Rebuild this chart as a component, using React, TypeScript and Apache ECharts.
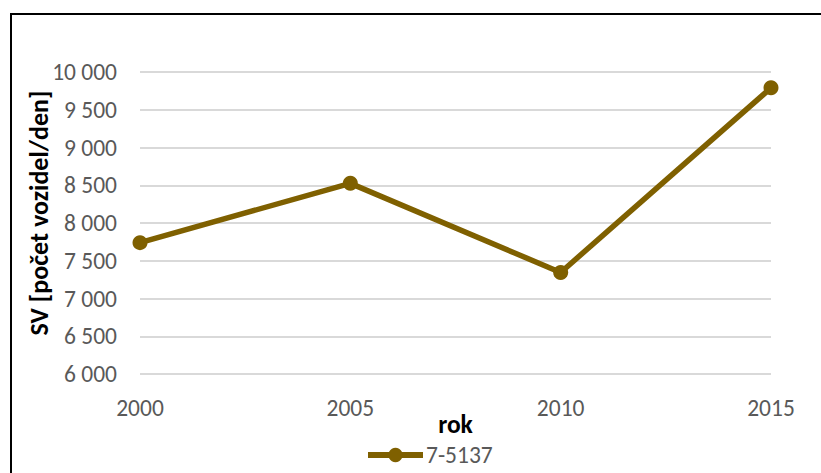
import React, { useEffect, useRef } from "react";
import * as echarts from "echarts";

// Annual traffic volume at count station 7-5137
const years = ["2000", "2005", "2010", "2015"];
const volumes = [7740, 8525, 7345, 9790];
const seriesName = "7-5137";
const yTicks = { min: 6000, max: 10000, interval: 500 };

const FONT = "Carlito, Calibri, Lato, 'Open Sans', sans-serif";
const LINE_COLOR = "#7F6000";

function formatThousands(v: number): string {
  return String(v).replace(/\B(?=(\d{3})+(?!\d))/g, " ");
}

export default function App() {
  const ref = useRef<HTMLDivElement>(null);

  useEffect(() => {
    if (!ref.current) return;
    const chart = echarts.init(ref.current, null, { renderer: "svg" });
    chart.setOption({
      animation: false,
      backgroundColor: "#ffffff",
      textStyle: { fontFamily: FONT },
      grid: { left: 140, right: 50, top: 72, bottom: 99, containLabel: false },
      xAxis: {
        type: "category",
        data: years,
        boundaryGap: false,
        axisLine: { show: false },
        axisTick: { show: false },
        axisLabel: { color: "#595959", fontSize: 23.5, margin: 22, fontFamily: FONT },
        name: "rok",
        nameLocation: "middle",
        nameGap: 37,
        nameMoveOverlap: false,
        nameTextStyle: { color: "#000000", fontSize: 25.5, fontWeight: "bold", fontFamily: FONT },
      },
      yAxis: {
        type: "value",
        min: yTicks.min,
        max: yTicks.max,
        interval: yTicks.interval,
        axisLine: { show: false },
        axisTick: { show: false },
        splitLine: { lineStyle: { color: "#d9d9d9", width: 2 } },
        axisLabel: {
          color: "#595959",
          fontSize: 23.5,
          margin: 23,
          fontFamily: FONT,
          formatter: (v: number) => formatThousands(v),
        },
      },
      legend: {
        data: [seriesName],
        top: 443,
        left: 365,
        padding: 0,
        itemWidth: 55,
        itemHeight: 18,
        itemGap: 2,
        lineStyle: { width: 6, color: LINE_COLOR },
        textStyle: { color: "#595959", fontSize: 23.5, fontFamily: FONT, padding: [0, 0, 0, -2] },
      },
      graphic: [
        {
          type: "rect",
          shape: { x: 11, y: 14, width: 840, height: 480 },
          style: { fill: "none", stroke: "#000000", lineWidth: 2 },
          silent: true,
        },
        {
          type: "text",
          x: 39,
          y: 213,
          rotation: Math.PI / 2,
          style: {
            text: "SV [počet vozidel/den]",
            fill: "#000000",
            font: `bold 26px ${FONT}`,
            align: "center",
            verticalAlign: "middle",
          },
          silent: true,
        },
      ],
      series: [
        {
          name: seriesName,
          type: "line",
          data: volumes,
          symbol: "circle",
          symbolSize: 15,
          lineStyle: { color: LINE_COLOR, width: 5.5 },
          itemStyle: { color: LINE_COLOR },
        },
      ],
    });
    return () => chart.dispose();
  }, []);

  return (
    <div
      ref={ref}
      style={{ position: "fixed", left: 0, top: 0, width: 821, height: 473 }}
    />
  );
}
